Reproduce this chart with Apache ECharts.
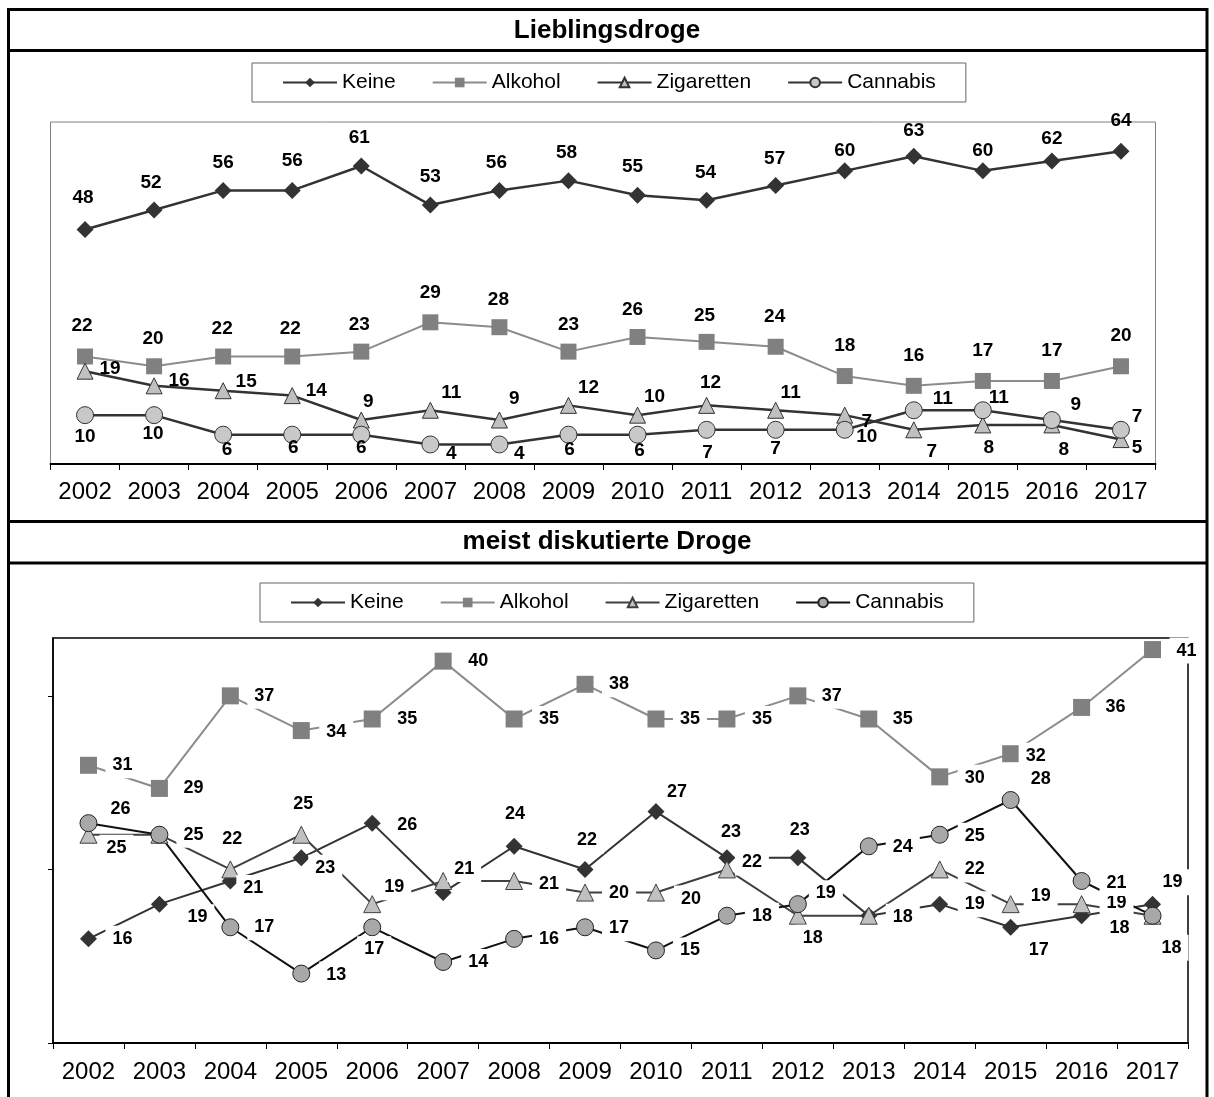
<!DOCTYPE html>
<html>
<head>
<meta charset="utf-8">
<script src="https://cdn.jsdelivr.net/npm/echarts@6/dist/echarts.min.js"></script>
<style>html,body{margin:0;padding:0;background:#fff}#c{width:1214px;height:1097px}</style>
</head>
<body>
<div id="c"></div>
<script>
// ---------- data ----------
const years = ['2002','2003','2004','2005','2006','2007','2008','2009','2010','2011','2012','2013','2014','2015','2016','2017'];
const seriesNames = ['Keine','Alkohol','Zigaretten','Cannabis'];
const titleTop = 'Lieblingsdroge';
const titleBottom = 'meist diskutierte Droge';

// Lieblingsdroge
const liebKeine      = [48,52,56,56,61,53,56,58,55,54,57,60,63,60,62,64];
const liebAlkohol    = [22,20,22,22,23,29,28,23,26,25,24,18,16,17,17,20];
const liebZigaretten = [19,16,15,14,9,11,9,12,10,12,11,10,7,8,8,5];
const liebCannabis   = [10,10,6,6,6,4,4,6,6,7,7,7,11,11,9,7];

// meist diskutierte Droge
const diskKeine      = [16,19,21,23,26,20,24,22,27,23,23,18,19,17,18,19];
const diskAlkohol    = [31,29,37,34,35,40,35,38,35,35,37,35,30,32,36,41];
const diskZigaretten = [25,25,22,25,19,21,21,20,20,22,18,18,22,19,19,18];
const diskCannabis   = [26,25,17,13,17,14,16,17,15,18,19,24,25,28,21,18];

// ---------- label placement (layout only: offset of label centre from marker, null = hidden) ----------
const offTop = {
  Keine:      [[-2,-32],[-3,-27],[0,-28],[0,-30],[-2,-28],[0,-28],[-3,-28],[-2,-28],[-5,-29],[-1,-27],[-1,-27],[0,-20],[0,-25],[0,-20],[0,-22],[0,-31]],
  Alkohol:    [[-3,-31],[-1,-28],[-1,-28],[-2,-28],[-2,-27],[0,-30],[-1,-27],[0,-27],[-5,-27],[-2,-26],[-1,-30],[0,-30],[0,-30],[0,-30],[0,-30],[0,-31]],
  Zigaretten: [[25,-2],[25,-5],[23,-9],[24,-5],[7,-18],[21,-17],[15,-21],[20,-18],[17,-18],[4,-23],[15,-17],[22,22],[18,22],[6,23],[12,25],[16,8]],
  Cannabis:   [[0,22],[-1,19],[4,15],[1,13],[0,13],[21,9],[20,9],[1,15],[2,16],[1,23],[0,19],[22,-8],[29,-11],[16,-12],[24,-15],[16,-13]]
};
const offBot = {
  Keine:      [[34,0],[38,13],[23,7],[24,10],[35,2],null,[1,-32],[2,-29],[21,-20],[4,-26],[2,-28],null,[35,0],[28,23],[38,12],[20,-22]],
  Alkohol:    [[34,0],[34,0],[34,0],[35,1],[35,0],[35,0],[35,0],[34,0],[34,0],[35,0],[34,0],[34,0],[35,1],[25,2],[34,0],[34,1]],
  Zigaretten: [[28,13],null,[2,-30],[2,-31],[22,-17],[21,-12],[35,3],[34,0],[35,6],[25,-7],[15,22],[34,1],[35,0],[30,-8],[35,-1],null],
  Cannabis:   [[32,-14],[34,0],[34,0],[35,1],[2,22],[35,0],[35,0],[34,1],[34,0],[35,0],[28,-11],[34,1],[35,1],[30,-21],[35,2],[19,32]]
};

// ---------- build ----------
const FF = '"Liberation Sans", Arial, Helvetica, sans-serif';

function withLabels(values, offs) {
  return values.map((v, i) => {
    const o = offs[i];
    if (!o) return { value: v, label: { show: false } };
    return { value: v, label: { offset: o } };
  });
}

const styles = {
  top: {
    Keine:      { line: '#333333', lw: 2.5, symbol: 'diamond',  size: 17, fill: '#333333', border: null },
    Alkohol:    { line: '#8c8c8c', lw: 2,   symbol: 'rect',     size: 16, fill: '#808080', border: null },
    Zigaretten: { line: '#333333', lw: 2.5, symbol: 'triangle', size: 16, fill: '#c0c0c0', border: '#333333' },
    Cannabis:   { line: '#333333', lw: 2.5, symbol: 'circle',   size: 17, fill: '#c8c8c8', border: '#333333' }
  },
  bot: {
    Keine:      { line: '#333333', lw: 2,   symbol: 'diamond',  size: 17, fill: '#333333', border: null },
    Alkohol:    { line: '#8c8c8c', lw: 2,   symbol: 'rect',     size: 17, fill: '#808080', border: null },
    Zigaretten: { line: '#404040', lw: 2,   symbol: 'triangle', size: 17, fill: '#c0c0c0', border: '#404040' },
    Cannabis:   { line: '#111111', lw: 2,   symbol: 'circle',   size: 17, fill: '#a8a8a8', border: '#222222' }
  }
};

function mkSeries(name, values, offs, st, gi, labelBase, suffix) {
  return {
    type: 'line',
    name: name + suffix,
    xAxisIndex: gi, yAxisIndex: gi,
    data: withLabels(values, offs),
    symbol: st.symbol, symbolSize: st.size, showAllSymbol: true,
    lineStyle: { color: st.line, width: st.lw },
    itemStyle: { color: st.fill, borderColor: st.border || st.fill, borderWidth: st.border ? 1 : 0 },
    label: labelBase,
    emphasis: { disabled: true },
    animation: false
  };
}

const labelTop = { show: true, position: 'inside', color: '#000', fontSize: 19, fontWeight: 'bold', fontFamily: FF };
const labelBot = { show: true, position: 'inside', color: '#000', fontSize: 18, fontWeight: 'bold', fontFamily: FF,
                   backgroundColor: '#ffffff', padding: [4, 7] };

const topVals = { Keine: liebKeine, Alkohol: liebAlkohol, Zigaretten: liebZigaretten, Cannabis: liebCannabis };
const botVals = { Keine: diskKeine, Alkohol: diskAlkohol, Zigaretten: diskZigaretten, Cannabis: diskCannabis };

const series = [];
seriesNames.forEach(n => series.push(mkSeries(n, topVals[n], offTop[n], styles.top[n], 0, labelTop, '')));
seriesNames.forEach(n => series.push(mkSeries(n, botVals[n], offBot[n], styles.bot[n], 1, labelBot, ' ')));

const legendBase = {
  orient: 'horizontal', itemWidth: 54, itemHeight: 12, itemGap: 36,
  textStyle: { fontSize: 21, fontFamily: FF, color: '#000' },
  borderColor: '#666', borderWidth: 1, backgroundColor: '#fff', padding: [9, 30],
  selectedMode: false,
  formatter: n => n.trim()
};

const axisLabelStyle = { fontSize: 24, fontFamily: FF, color: '#000' };

const option = {
  backgroundColor: '#ffffff',
  animation: false,
  legend: [
    Object.assign({}, legendBase, { left: 252, top: 63, data: seriesNames }),
    Object.assign({}, legendBase, { left: 260, top: 583, data: seriesNames.map(n => n + ' ') })
  ],
  grid: [
    { left: 50.5, top: 122, width: 1105, height: 342, show: true, borderColor: '#808080', borderWidth: 1, backgroundColor: 'transparent' },
    { left: 53, top: 638, width: 1135, height: 405, show: true, borderColor: '#000', borderWidth: 1.5, backgroundColor: 'transparent' }
  ],
  xAxis: [
    { gridIndex: 0, type: 'category', data: years, boundaryGap: true,
      axisLine: { lineStyle: { color: '#000', width: 2 } },
      axisTick: { show: true, length: 6, inside: false, alignWithLabel: false, lineStyle: { color: '#000', width: 1 } },
      axisLabel: Object.assign({ margin: 16, interval: 0 }, axisLabelStyle),
      splitLine: { show: false } },
    { gridIndex: 1, type: 'category', data: years, boundaryGap: true,
      axisLine: { lineStyle: { color: '#000', width: 2 } },
      axisTick: { show: true, length: 6, inside: false, alignWithLabel: false, lineStyle: { color: '#000', width: 1 } },
      axisLabel: Object.assign({ margin: 17, interval: 0 }, axisLabelStyle),
      splitLine: { show: false } }
  ],
  yAxis: [
    { gridIndex: 0, type: 'value', min: 0, max: 70,
      axisLine: { show: false }, axisTick: { show: false }, axisLabel: { show: false }, splitLine: { show: false } },
    { gridIndex: 1, type: 'value', min: 7, max: 42, interval: 15,
      axisLine: { show: true, lineStyle: { color: '#000', width: 1.5 } },
      axisTick: { show: true, length: 5, lineStyle: { color: '#000', width: 1 }, customValues: [7, 22, 37] },
      axisLabel: { show: false }, splitLine: { show: false } }
  ],
  series: series,
  graphic: [
    { type: 'line', shape: { x1: 8, y1: 9.5, x2: 1208, y2: 9.5 }, style: { stroke: '#000', lineWidth: 3 }, z: 100 },
    { type: 'line', shape: { x1: 8, y1: 50.5, x2: 1208, y2: 50.5 }, style: { stroke: '#000', lineWidth: 3 }, z: 100 },
    { type: 'line', shape: { x1: 8, y1: 521.5, x2: 1208, y2: 521.5 }, style: { stroke: '#000', lineWidth: 3 }, z: 100 },
    { type: 'line', shape: { x1: 8, y1: 563, x2: 1208, y2: 563 }, style: { stroke: '#000', lineWidth: 3 }, z: 100 },
    { type: 'line', shape: { x1: 8.5, y1: 8, x2: 8.5, y2: 1097 }, style: { stroke: '#000', lineWidth: 3 }, z: 100 },
    { type: 'line', shape: { x1: 1207, y1: 8, x2: 1207, y2: 1097 }, style: { stroke: '#000', lineWidth: 3 }, z: 100 },
    { type: 'text', x: 607, y: 31, z: 100,
      style: { text: titleTop, font: 'bold 26px ' + FF, fill: '#000', textAlign: 'center', textVerticalAlign: 'middle', align: 'center', verticalAlign: 'middle' } },
    { type: 'text', x: 607, y: 542, z: 100,
      style: { text: titleBottom, font: 'bold 26px ' + FF, fill: '#000', textAlign: 'center', textVerticalAlign: 'middle', align: 'center', verticalAlign: 'middle' } }
  ]
};

const chart = echarts.init(document.getElementById('c'), null, { renderer: 'canvas' });
chart.setOption(option);
</script>
</body>
</html>
